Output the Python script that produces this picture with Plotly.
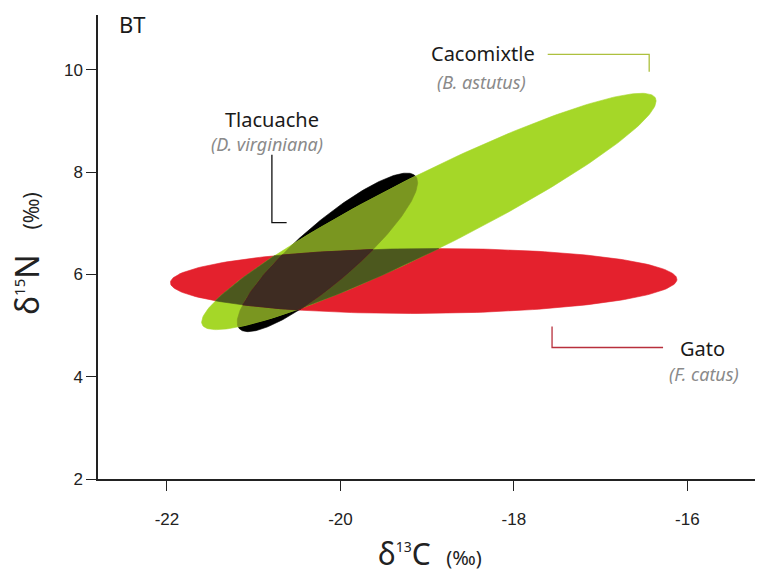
import numpy as np
import plotly.graph_objects as go

# ---- data: standard ellipses (center, SDs, correlation) ----
species = ["Gato", "Tlacuache", "Cacomixtle"]
sci_names = ["F. catus", "D. virginiana", "B. astutus"]
center_c13 = [-19.04, -20.15, -18.98]
center_n15 = [5.87, 6.43, 7.23]
sd_c13 = [2.92, 1.04, 2.62]
sd_n15 = [0.635, 1.55, 2.31]
rho = [0.05, 0.88, 0.935]

x_ticks = [-22, -20, -18, -16]
y_ticks = [2, 4, 6, 8, 10]

# colours
col = {
    "R": "rgb(228,33,45)",
    "B": "rgb(0,0,0)",
    "G": "rgb(165,215,40)",
    "RB": "rgb(120,22,28)",
    "RG": "rgb(76,88,30)",
    "BG": "rgb(122,150,32)",
    "RBG": "rgb(62,44,34)",
}


def ellipse(i, n=240):
    t = np.linspace(0, 2 * np.pi, n, endpoint=False)
    x = center_c13[i] + sd_c13[i] * np.cos(t)
    y = center_n15[i] + sd_n15[i] * (rho[i] * np.cos(t) + np.sqrt(1 - rho[i] ** 2) * np.sin(t))
    return list(zip(x, y))


def area(poly):
    s = 0
    for k in range(len(poly)):
        x1, y1 = poly[k]
        x2, y2 = poly[(k + 1) % len(poly)]
        s += x1 * y2 - x2 * y1
    return s / 2


def clip(subject, clipper):
    # Sutherland-Hodgman, clipper convex
    sign = 1 if area(clipper) > 0 else -1

    def inside(p, a, b):
        return sign * ((b[0] - a[0]) * (p[1] - a[1]) - (b[1] - a[1]) * (p[0] - a[0])) >= 0

    def inter(p, q, a, b):
        x1, y1 = p; x2, y2 = q; x3, y3 = a; x4, y4 = b
        den = (x1 - x2) * (y3 - y4) - (y1 - y2) * (x3 - x4)
        if den == 0:
            return q
        t = ((x1 - x3) * (y3 - y4) - (y1 - y3) * (x3 - x4)) / den
        return (x1 + t * (x2 - x1), y1 + t * (y2 - y1))

    out = subject
    for k in range(len(clipper)):
        a = clipper[k]; b = clipper[(k + 1) % len(clipper)]
        inp = out
        out = []
        if not inp:
            break
        s = inp[-1]
        for e in inp:
            if inside(e, a, b):
                if not inside(s, a, b):
                    out.append(inter(s, e, a, b))
                out.append(e)
            elif inside(s, a, b):
                out.append(inter(s, e, a, b))
            s = e
    return out


R, B, G = ellipse(0), ellipse(1), ellipse(2)
regions = [
    ("R", R), ("B", B), ("G", G),
    ("RG", clip(R, G)), ("BG", clip(B, G)), ("RB", clip(R, B)),
    ("RBG", clip(clip(R, B), G)),
]

fig = go.Figure()
for key, poly in regions:
    if len(poly) < 3:
        continue
    xs = [p[0] for p in poly] + [poly[0][0]]
    ys = [p[1] for p in poly] + [poly[0][1]]
    fig.add_trace(go.Scatter(x=xs, y=ys, mode="lines", fill="toself",
                             fillcolor=col[key], line=dict(width=0.6, color=col[key]),
                             hoverinfo="skip", showlegend=False))

label_font = "Noto Sans, Open Sans, sans-serif"
# species labels (positions in data units)
labels = [
    # name, sci, name_xy, sci_xy, leader path, leader colour
    (species[1], sci_names[1], (-20.79, 9.03), (-20.85, 8.54),
     [(-20.79, 8.34), (-20.79, 7.01), (-20.62, 7.01)], "#111111"),
    (species[2], sci_names[2], (-18.36, 10.32), (-18.37, 9.77),
     [(-17.61, 10.30), (-16.44, 10.30), (-16.44, 9.96)], "#adc03e"),
    (species[0], sci_names[0], (-15.83, 4.55), (-15.81, 4.06),
     [(-17.56, 4.98), (-17.56, 4.57), (-16.28, 4.57)], "#b8303c"),
]
for name, sci, nxy, sxy, path, lc in labels:
    fig.add_annotation(x=nxy[0], y=nxy[1], text=name, showarrow=False,
                       xanchor="center", yanchor="middle",
                       font=dict(family=label_font, size=20, color="#1a1a1a"))
    fig.add_annotation(x=sxy[0], y=sxy[1], text="<i>(" + sci + ")</i>", showarrow=False,
                       xanchor="center", yanchor="middle",
                       font=dict(family=label_font, size=18, color="#8a8a8a"))
    fig.add_trace(go.Scatter(x=[p[0] for p in path], y=[p[1] for p in path], mode="lines",
                             line=dict(color=lc, width=1.3), hoverinfo="skip", showlegend=False))

fig.add_annotation(xref="paper", yref="paper", x=0.053, y=0.981, text="BT", showarrow=False,
                   xanchor="center", yanchor="middle",
                   font=dict(family=label_font, size=22, color="#1a1a1a"))

fig.add_annotation(xref="paper", yref="paper", x=-0.11, y=0.487, textangle=-90,
                   text="δ<sup><span style='font-size:15px'>15</span></sup>N   <span style='font-size:21px'>(‰)</span>",
                   showarrow=False, xanchor="center", yanchor="middle",
                   font=dict(family=label_font, size=32, color="#222222"))
fig.add_annotation(xref="paper", yref="paper", x=0.505, y=-0.16,
                   text="δ<sup><span style='font-size:14px'>13</span></sup>C  <span style='font-size:20px'>(‰)</span>",
                   showarrow=False, xanchor="center", yanchor="middle",
                   font=dict(family=label_font, size=30, color="#222222"))

axis_common = dict(showline=True, linecolor="#222222", linewidth=1.5, ticks="outside",
                   ticklen=10, tickwidth=1.3, tickcolor="#222222", showgrid=False,
                   zeroline=False, tickfont=dict(family="Liberation Sans, Arial, sans-serif",
                                                 size=17, color="#222222"))
fig.update_xaxes(range=[-22.795, -15.22], tickvals=x_ticks, ticktext=[str(v) for v in x_ticks],
                 ticklabelstandoff=14, **axis_common)
fig.update_yaxes(range=[2, 11.07], tickvals=y_ticks, ticktext=[str(v) for v in y_ticks],
                 ticklabelstandoff=0, **axis_common)

fig.update_layout(width=759, height=573, margin=dict(l=98, r=4, t=15, b=94),
                  plot_bgcolor="white", paper_bgcolor="white")
fig.write_html("out.html")
